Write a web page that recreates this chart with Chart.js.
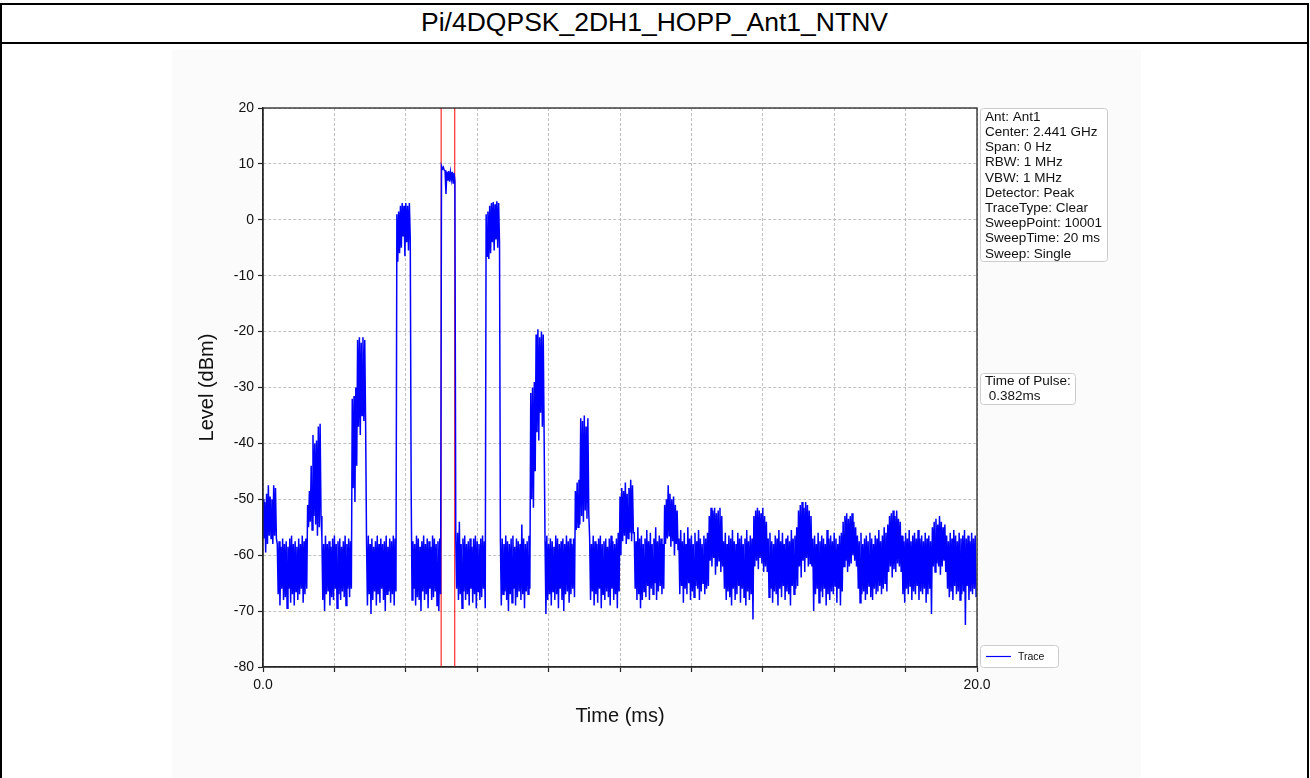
<!DOCTYPE html>
<html>
<head>
<meta charset="utf-8">
<title>Pi/4DQPSK_2DH1_HOPP_Ant1_NTNV</title>
<script src="https://cdn.jsdelivr.net/npm/chart.js@4.4.1/dist/chart.umd.min.js"></script>
<style>
    html, body { margin: 0; padding: 0; background: #fff; }
    body { width: 1310px; height: 778px; overflow: hidden; position: relative; font-family: "Liberation Sans", Arial, sans-serif; }
    #frame { position: absolute; left: 0; top: 3px; width: 1305px; height: 800px; border: 2px solid #000; }
    #titleBar { position: absolute; left: 0; top: 3px; width: 1309px; height: 39px; border-bottom: 2px solid #000;
        display: flex; align-items: center; justify-content: center; font-size: 26.5px; color: #000; }
    #figure { position: absolute; left: 172px; top: 50px; width: 969px; height: 728px; background: #fbfbfb; }
    #chart { position: absolute; left: 0; top: 0; }
</style>
</head>
<body>
<div id="frame"></div>
<div id="titleBar">Pi/4DQPSK_2DH1_HOPP_Ant1_NTNV</div>
<div id="figure"></div>
<canvas id="chart" width="1310" height="778"></canvas>
<script>
// One row = one hop period of 1.25 ms (25 bins): 8 bins of burst, then noise.
const binMs = 0.05;

const traceHigh = [
    -50, -50.5, -49, -47.5, -49.5, -50, -47.5, -48, -58, -57.5, -58.5, -57, -58, -57.5, -58.5, -57, -56.5, -58, -57.5, -58.5, -57, -58, -56.5, -57.5, -57,
    -51, -48.5, -44, -38.5, -40, -39.5, -37, -36.5, -57, -58, -56.5, -58, -57.5, -58.5, -57, -56.5, -58, -57.5, -57, -58.5, -57.5, -56.5, -58, -57, -57.5,
    -32, -31.5, -30, -21.5, -21, -22, -21, -21.5, -57.5, -56.5, -58, -57, -58.5, -57.5, -56.5, -58, -57, -58, -57.5, -56.5, -58.5, -57, -57.5, -56.5, -57,
    1, 1.5, 2.5, 3, 2.5, 3, 2.5, 3, -48, -57.5, -58, -56.5, -57, -58.5, -57.5, -56.5, -58, -57, -57.5, -58.5, -56.5, -57, -58, -57.5, -57,
    9.6, 9.4, 8.8, 8.6, 8.7, 8.5, 8.6, 8.4, -57, -56, -54, -58, -57, -56.5, -58, -57.5, -57, -58.5, -57, -56.5, -57.5, -58, -57, -56.5, -57.5,
    1, 1.5, 2.5, 3, 3.2, 2.8, 3.3, 3, -57.5, -57, -58, -56.5, -57.5, -58, -57, -56.5, -58.5, -57, -57.5, -58, -54.5, -57, -58, -57.5, -56.5,
    -31, -30, -29, -20.5, -19.6, -21, -20, -20.5, -57.5, -56.5, -58, -57, -57.5, -58.5, -56.5, -57, -58, -57.5, -57, -58, -56.5, -57.5, -57, -58, -57,
    -48.5, -47, -46.5, -35.5, -36, -35, -37, -35.5, -57, -58, -56.5, -57.5, -58, -57, -56.5, -58, -57.5, -57, -58.5, -57, -56.5, -57.5, -58, -57, -56,
    -49.5, -48, -48.5, -47, -49, -48, -46.5, -47.5, -56, -57.5, -55, -57, -56.5, -58, -57, -55.5, -57.5, -56, -58, -57, -55, -57.5, -56.5, -57, -58,
    -51, -50, -47.5, -49, -50, -49.5, -51, -52, -57, -55.5, -57.5, -56, -58, -55, -57, -56.5, -58, -56, -57.5, -55.5, -57, -58, -56.5, -57, -56,
    -53, -51.5, -52, -51.5, -52.5, -52, -51.5, -53, -57.5, -56, -58, -56.5, -57, -55.5, -57.5, -58, -56, -57, -56.5, -58, -57, -55.5, -57.5, -56.5, -57,
    -53, -52, -51.5, -52, -52.5, -51.5, -53, -54, -57, -56, -57.5, -58, -56.5, -57, -55.5, -57.5, -56, -58, -57, -56.5, -57.5, -55.5, -57, -56.5, -55,
    -52, -51, -50.5, -51.5, -50.5, -51, -52, -53, -57, -56.5, -58, -56, -57.5, -56.5, -57, -58, -55.5, -57, -56.5, -57.5, -56, -57, -58, -56.5, -56,
    -54, -53, -52.5, -53.5, -53, -52.5, -54, -55, -56.5, -57.5, -56, -58, -57, -56.5, -57.5, -56, -57, -58, -56.5, -57, -55.5, -57.5, -56.5, -55, -56,
    -54.5, -53, -52.5, -52, -53, -52, -53.5, -54, -56.5, -57.5, -56, -57, -55.5, -57.5, -56.5, -56, -57, -55.5, -57, -56.5, -57.5, -56, -57, -56.5, -57.5,
    -55, -54, -53.5, -54.5, -53, -54, -55, -54.5, -56.5, -57.5, -56, -57, -55.5, -56.5, -57.5, -56, -57, -56.5, -55.5, -57, -56.5, -57.5, -56, -57, -56.5
];

const traceLow = [
    -57, -59.5, -58, -56.5, -57, -58, -56.5, -57, -67, -69, -66, -68, -67.5, -69.5, -66, -68.5, -67, -69, -66.5, -68, -67, -66, -68.5, -67, -66,
    -55, -54, -55.5, -53, -54.5, -56.5, -55, -53, -68, -70, -67, -66.5, -69, -67.5, -68, -66, -69.5, -67, -68, -66.5, -67.5, -69, -66, -67.5, -66,
    -48, -50.5, -44, -37, -38.5, -35, -36, -37, -69, -67, -70.5, -68, -66.5, -69, -67, -68.5, -66, -68, -70, -67, -66.5, -68.5, -67, -69, -66.5,
    -7.5, -6, -5, -3, -6.5, -4, -5.5, -3.5, -68, -66, -69, -67.5, -68, -70, -66.5, -68, -67, -69.5, -66, -68, -67.5, -66.5, -69, -70, -67,
    9.1, 8.9, 4.6, 7, 6.8, 7.2, 6.6, 7, -66, -68, -67, -69.5, -66.5, -68, -67, -69, -66, -68.5, -67, -69.5, -66.5, -68, -67.5, -66, -69.5,
    -6.5, -7, -6, -4, -5.5, -3.5, -5, -4, -69, -67, -66.5, -68, -70, -67, -68.5, -66, -69, -67.5, -66.5, -68, -67, -69.5, -66.5, -67, -66,
    -50, -51.5, -45, -38, -39.5, -34.5, -37, -39, -70.5, -68, -67, -69, -66.5, -68, -67, -69.5, -66, -68, -70, -67, -66.5, -68.5, -67, -66, -67.5,
    -55.5, -55, -54.5, -53, -54, -52, -53.5, -52.5, -68, -66.5, -69, -67, -68.5, -66, -69.5, -67, -68, -66.5, -67.5, -69, -66, -68, -67, -69.5, -66.5,
    -60, -57.5, -56.5, -58, -57, -56, -57.5, -56, -66, -68, -67, -69.5, -68, -66.5, -67.5, -65.5, -68, -66, -67, -65, -68, -66.5, -65.5, -67, -66,
    -58, -57, -56.5, -58.5, -57.5, -60, -58, -59, -67, -65.5, -68.5, -66, -67, -65, -68, -66.5, -67.5, -65.5, -66, -68, -66.5, -65, -67, -66, -65.5,
    -61, -62, -60.5, -63.5, -62, -61, -63, -62, -66, -68, -66.5, -67.5, -69, -66, -68, -67, -65.5, -68.5, -66, -67.5, -69, -66.5, -68, -67, -71.5,
    -62, -61, -62.5, -60.5, -61.5, -63, -62, -63, -67.5, -66, -68.5, -66.5, -67, -69, -66, -67.5, -65.5, -68, -66.5, -67, -69, -65.5, -67, -66, -65.5,
    -62, -64, -61, -63, -60.5, -62, -61.5, -62, -70, -67, -66, -68.5, -66.5, -67.5, -66, -69, -67, -68, -66.5, -67, -65.5, -68.5, -66, -69, -66.5,
    -62, -61, -63, -62, -61.5, -60, -61, -62, -66, -68.5, -67, -66.5, -68, -67, -65.5, -67.5, -68, -66, -67, -66.5, -65.5, -67, -66, -65, -66.5,
    -63, -62, -64, -62.5, -63, -61.5, -62, -63, -67, -68.5, -66, -67, -65.5, -68, -66.5, -67, -65.5, -68, -66.5, -67, -66, -68.5, -67, -66, -70.5,
    -62, -63, -61.5, -62, -63.5, -62, -61, -63, -66, -67.5, -66.5, -68, -65.5, -67, -66.5, -68, -67, -66.5, -72.5, -65.5, -68, -66.5, -67, -66, -67.5
];

// Pulse markers (ms)
const markerTimes = [4.99, 5.372];

const yTicks = [-80, -70, -60, -50, -40, -30, -20, -10, 0, 10, 20];
const xTicks = [0, 2, 4, 6, 8, 10, 12, 14, 16, 18, 20];
const xLabels = { 0: '0.0', 20: '20.0' };

const infoLines = [
    'Ant: Ant1', 'Center: 2.441 GHz', 'Span: 0 Hz', 'RBW: 1 MHz', 'VBW: 1 MHz',
    'Detector: Peak', 'TraceType: Clear', 'SweepPoint: 10001', 'SweepTime: 20 ms', 'Sweep: Single'
];
const pulseLines = ['Time of Pulse:', ' 0.382ms'];

// --- Build points: each bin = high sample then low sample ---
const tracePoints = [];
traceHigh.forEach((hi, i) => {
    tracePoints.push({ x: i * binMs, y: hi });
    tracePoints.push({ x: i * binMs + binMs / 2, y: traceLow[i] });
});

const markerSets = markerTimes.map(t => ({
    label: 'marker',
    data: [{ x: t, y: yTicks[0] }, { x: t, y: yTicks[yTicks.length - 1] }],
    borderColor: '#ff0000',
    borderWidth: 1,
    pointRadius: 0
}));

const FONT = '"Liberation Sans", Arial, sans-serif';

// --- Plugin: white plot background, full frame, side boxes ---
const framePlugin = {
    id: 'framePlugin',
    beforeDraw(chart) {
        const { ctx, chartArea: a } = chart;
        ctx.save();
        ctx.fillStyle = '#ffffff';
        ctx.fillRect(a.left, a.top, a.right - a.left, a.bottom - a.top);
        ctx.restore();
    },
    afterDraw(chart) {
        const { ctx, chartArea: a } = chart;
        ctx.save();
        ctx.strokeStyle = '#262626';
        ctx.lineWidth = 1.3;
        ctx.strokeRect(a.left, a.top, a.right - a.left, a.bottom - a.top);

        const box = (x, y, w, h) => {
            ctx.beginPath();
            ctx.roundRect(x + 0.5, y + 0.5, w, h, 3);
            ctx.fillStyle = '#ffffff';
            ctx.fill();
            ctx.strokeStyle = '#cccccc';
            ctx.lineWidth = 1;
            ctx.stroke();
        };

        const bx = a.right + 3;
        ctx.font = '13.5px ' + FONT;
        ctx.textBaseline = 'middle';
        ctx.textAlign = 'left';

        box(bx, a.top, 127, 153);
        ctx.fillStyle = '#111';
        infoLines.forEach((t, i) => ctx.fillText(t, bx + 5, a.top + 9 + i * 15.2));

        box(bx, a.top + 265, 95, 31);
        ctx.fillStyle = '#111';
        pulseLines.forEach((t, i) => ctx.fillText(t, bx + 5, a.top + 273 + i * 15));

        // legend
        const ly = a.bottom - 22;
        box(bx, ly, 78, 22);
        ctx.strokeStyle = '#0000ff';
        ctx.lineWidth = 1.2;
        ctx.beginPath();
        ctx.moveTo(bx + 6, ly + 11.5);
        ctx.lineTo(bx + 31, ly + 11.5);
        ctx.stroke();
        ctx.fillStyle = '#111';
        ctx.font = '10.5px ' + FONT;
        ctx.fillText('Trace', bx + 38, ly + 12);
        ctx.restore();
    }
};

const axisGrid = { color: '#b0b0b0', lineWidth: 0.8, tickLength: 5, tickColor: '#262626', tickWidth: 1.2 };
const axisBorder = { display: true, color: '#262626', width: 1.3, dash: [3, 2] };

new Chart(document.getElementById('chart'), {
    type: 'line',
    data: {
        datasets: [
            {
                label: 'Trace',
                data: tracePoints,
                borderColor: '#0000ff',
                borderWidth: 1.5,
                pointRadius: 0,
                tension: 0
            },
            ...markerSets
        ]
    },
    options: {
        responsive: false,
        animation: false,
        parsing: false,
        normalized: true,
        layout: { padding: { left: 180, right: 333, top: 108, bottom: 50 } },
        plugins: {
            legend: { display: false },
            tooltip: { enabled: false }
        },
        scales: {
            x: {
                type: 'linear',
                min: 0,
                max: 20,
                afterBuildTicks: s => { s.ticks = xTicks.map(v => ({ value: v })); },
                afterFit: s => { s.height = 61; },
                ticks: {
                    autoSkip: false,
                    maxRotation: 0,
                    padding: 5,
                    color: '#111',
                    font: { family: FONT, size: 14 },
                    callback: v => xLabels[v] || ''
                },
                grid: axisGrid,
                border: axisBorder,
                title: { display: true, text: 'Time (ms)', color: '#111', font: { family: FONT, size: 20 }, padding: { top: 0, bottom: 0 } }
            },
            y: {
                min: -80,
                max: 20,
                afterBuildTicks: s => { s.ticks = yTicks.map(v => ({ value: v })); },
                afterFit: s => { s.width = 83; },
                ticks: { padding: 4, color: '#111', font: { family: FONT, size: 14 } },
                grid: axisGrid,
                border: axisBorder,
                title: { display: true, text: 'Level (dBm)', color: '#111', font: { family: FONT, size: 20 }, padding: { top: 15, bottom: 0 } }
            }
        }
    },
    plugins: [framePlugin]
});
</script>
</body>
</html>
